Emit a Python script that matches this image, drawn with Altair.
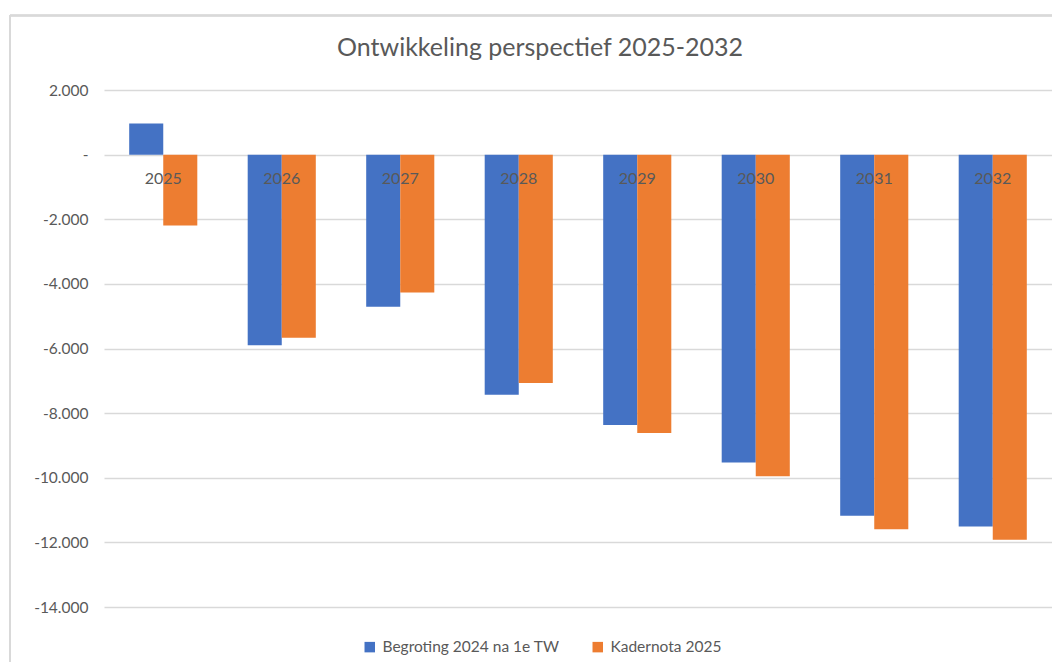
import altair as alt
import pandas as pd

years = ["2025", "2026", "2027", "2028", "2029", "2030", "2031", "2032"]
begroting = [960, -5900, -4705, -7430, -8370, -9525, -11175, -11510]
kadernota = [-2190, -5665, -4265, -7070, -8615, -9950, -11590, -11920]
series = ["Begroting 2024 na 1e TW", "Kadernota 2025"]
colors = ["#4472C4", "#ED7D31"]
yticks = [2000, 0, -2000, -4000, -6000, -8000, -10000, -12000, -14000]

rows = []
for i, y in enumerate(years):
    rows.append({"jaar": y, "reeks": series[0], "waarde": begroting[i]})
    rows.append({"jaar": y, "reeks": series[1], "waarde": kadernota[i]})
df = pd.DataFrame(rows)
lab = pd.DataFrame({"jaar": years, "nul": [0] * len(years)})

FONT = "Lato"
GREY = "#595959"

xscale = alt.Scale(domain=years, paddingInner=0, paddingOuter=0)

bars = alt.Chart(df).mark_bar().encode(
    x=alt.X("jaar:N", scale=xscale, axis=None, sort=years),
    xOffset=alt.XOffset("reeks:N", sort=series,
                        scale=alt.Scale(paddingInner=0, paddingOuter=0.74)),
    y=alt.Y("waarde:Q", scale=alt.Scale(domain=[-14000, 2000], nice=False),
            axis=alt.Axis(values=yticks, title=None, domain=False, ticks=False,
                          grid=True, gridColor="#d9d9d9", gridWidth=1.3,
                          labelColor=GREY, labelFont=FONT, labelFontSize=15.5,
                          labelPadding=16,
                          labelExpr="datum.value == 0 ? '-' : (datum.value < 0 ? '-' : '') + replace(format(abs(datum.value), ','), ',', '.')")),
    color=alt.Color("reeks:N", sort=series,
                    scale=alt.Scale(domain=series, range=colors),
                    legend=alt.Legend(title=None, orient="none", direction="horizontal",
                                      legendX=258, legendY=549, symbolType="square",
                                      symbolSize=110, symbolStrokeWidth=0,
                                      labelFont=FONT, labelFontSize=15.5, labelColor=GREY,
                                      labelLimit=0, columnPadding=30, labelOffset=5)),
)

labels = alt.Chart(lab).mark_text(font=FONT, fontSize=16, color=GREY, dy=24).encode(
    x=alt.X("jaar:N", scale=xscale, sort=years),
    y=alt.Y("nul:Q"),
    text="jaar:N",
)

frame_top = alt.Chart(lab).mark_rule(color="#d9d9d9", strokeWidth=1.5).encode(
    x=alt.value(-94), x2=alt.value(960), y=alt.value(-74.6)
)
frame_left = alt.Chart(lab).mark_rule(color="#d9d9d9", strokeWidth=1.5).encode(
    x=alt.value(-94), y=alt.value(-74.6), y2=alt.value(590)
)

chart = alt.layer(frame_top, frame_left, bars, labels).properties(
    width=948,
    height=517,
    autosize=alt.AutoSizeParams(type="none"),
    padding={"left": 96, "top": 82, "right": 0, "bottom": 55},
    title=alt.Title("Ontwikkeling perspectief 2025-2032", font=FONT, fontSize=25,
                    fontWeight="normal", color=GREY, anchor="middle", frame="group",
                    offset=-46, dx=-38),
).configure_view(stroke=None)

chart.save("out.html", embed_options={"renderer": "svg", "actions": False})
